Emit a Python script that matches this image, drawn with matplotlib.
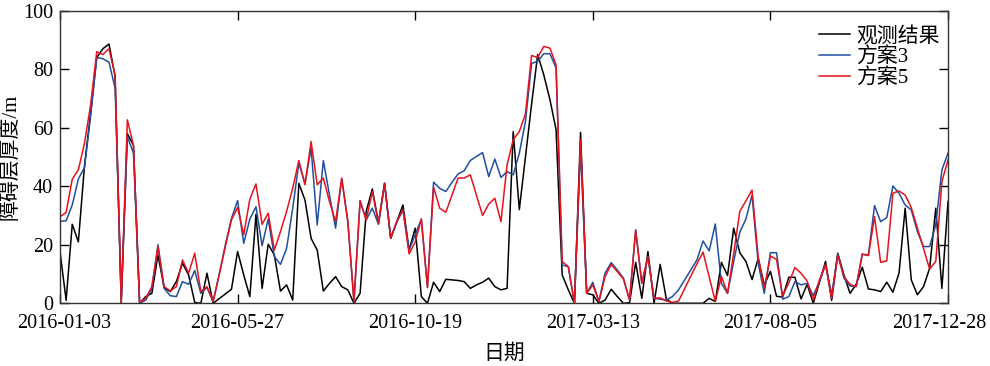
import pandas as pd
import matplotlib.pyplot as plt
import matplotlib.dates as mdates
import matplotlib.transforms as mtransforms

plt.rcParams['font.family'] = ['Liberation Serif', 'Noto Sans CJK SC']
plt.rcParams['axes.unicode_minus'] = False

# observation dates: every 5 days
dates = pd.date_range("2016-01-03", "2017-12-28", freq="5D")

observed = [
    17.7, 1, 27, 21, 47, 65, 84, 87, 88.6, 77.5,
    0, 58, 54, 0, 2.3, 3.4, 16.5, 5.4, 4, 7.4,
    13.7, 9.7, 0.3, 0, 10.3, 0, 1.6, 3.2, 4.8, 17.7,
    9.7, 2.3, 30.4, 5.1, 20.2, 16.5, 4.2, 6.3, 1.1, 41,
    35.3, 22.2, 18.2, 4.2, 6.8, 9.1, 5.7, 4.6, 0, 3.4,
    31.4, 39.1, 27.4, 41, 22.2, 27.9, 33.6, 18.2, 25.7, 2.3,
    0, 7.2, 4, 8.2, 8, 7.8, 7.4, 5.1, 6.3, 7.2,
    8.6, 5.7, 4.6, 5.1, 58.7, 32, 50, 68, 85, 78,
    69.6, 59.3, 9.7, 4.6, 0, 58.4, 3.4, 2.9, 0, 1.1,
    4.8, 2.3, 0, 0.2, 14, 1.7, 17.7, 0, 13.3, 1.5,
    0, 0, 0, 0, 0, 0, 1.7, 0.6, 14, 9.5,
    25.7, 17.3, 14.3, 8.1, 15.3, 6.3, 10.9, 2.4, 2.1, 8.9,
    8.9, 1.5, 6.5, 0, 7.2, 14.3, 1, 17.1, 9.7, 3.4,
    6.5, 12.3, 4.9, 4.6, 4, 7.2, 3.8, 10.3, 32.5, 8,
    2.9, 5.7, 12, 32.5, 5.1, 34.8,
]

plan3 = [
    28, 28.2, 33.6, 42.5, 46.4, 64, 84, 83.6, 82.4, 73.5,
    2, 57, 51.3, 0, 1.1, 5.1, 20, 5.1, 2.6, 2.3,
    7.4, 6.5, 11.2, 3.4, 5.4, 0.6, 10, 20, 29, 35.1,
    20.5, 28.8, 33, 19.7, 28.8, 16, 13.3, 18.8, 32.5, 47.9,
    41, 53, 26.8, 48.8, 37, 25.7, 42.6, 28, 0.6, 35,
    28.5, 32.5, 27, 41, 22.2, 27.9, 32, 18.2, 23.4, 28.8,
    5.4, 41.4, 39.3, 38.2, 41.3, 44.2, 45.3, 48.8, 50.2, 51.5,
    43.3, 49.3, 43, 45, 43.9, 51.3, 62.1, 82, 82.7, 85.3,
    85.3, 80.4, 13.1, 12.5, 0, 53, 3.4, 7.2, 0.6, 10.3,
    13.9, 11.4, 8.6, 1.1, 25.1, 6.8, 16, 1.7, 1.4, 1.1,
    2.3, 4.6, 8, 11.4, 14.8, 21.3, 17.9, 27.1, 6.8, 3.4,
    14.3, 24.3, 28.8, 37, 13.7, 3.4, 17.3, 17.3, 1.4, 2.3,
    7.4, 6.3, 6.8, 2.6, 7.4, 13.1, 2.9, 17.1, 8.6, 5.9,
    5.7, 16.8, 16.5, 33.4, 27.9, 29.3, 40.1, 37.6, 33.6, 31.9,
    24.5, 19.4, 19.4, 26.8, 45.6, 51.3,
]

plan5 = [
    29.6, 31, 42.4, 45.6, 54.7, 67.8, 86, 85, 87, 78,
    0.5, 62.7, 54, 0.3, 1.7, 5.7, 19.4, 5.7, 4.2, 5.7,
    14.8, 10.3, 17.1, 4, 5.7, 0.6, 9.7, 19.4, 28.5, 32.8,
    23.4, 35.6, 40.8, 27, 30.8, 18.2, 24.5, 31.4, 39.3, 48.8,
    40.5, 55.3, 40.5, 42.8, 34.8, 27.9, 42.8, 27.9, 0.6, 35,
    28.5, 38.2, 27.4, 41, 22.2, 27.9, 32, 16.9, 21, 28.8,
    5.4, 39.7, 32.5, 31.1, 37, 42.8, 42.8, 43.9, 37, 30,
    33.9, 35.9, 27.9, 47.3, 55.9, 58.7, 64.7, 84.7, 84, 87.8,
    87.2, 81.5, 14.3, 12.5, 0, 55.9, 3.4, 6.3, 0.6, 9.1,
    13.3, 10.8, 8.3, 1.1, 25, 6.8, 15.9, 1.7, 1.9, 0.8,
    0.3, 0.8, 5, 9.3, 13.5, 17.5, 9, 0.6, 9.2, 3.4,
    17, 31.4, 35, 38.7, 16, 5.1, 16.2, 15, 2.5, 7,
    12.2, 10.3, 7.6, 1.1, 8, 13.3, 1.7, 16.5, 9.1, 6.5,
    5.7, 16.8, 16.3, 29.6, 14, 14.5, 37.6, 38.4, 37, 32.7,
    25.7, 18.8, 11.7, 14.3, 41.6, 49,
]

tick_dates = pd.date_range("2016-01-03", "2017-12-28", freq="145D")

fig = plt.figure(figsize=(9.9, 3.66), dpi=100)
ax = fig.add_axes([0.0606, 0.1713, 0.897, 0.7995])

ax.plot(dates, observed, color="black", lw=1.1, label="观测结果")
ax.plot(dates, plan3, color="#1f4fa0", lw=1.1, label="方案3")
ax.plot(dates, plan5, color="#e5131d", lw=1.1, label="方案5")

ax.set_xlim(dates[0], dates[-1])
ax.set_ylim(0, 100)
ax.set_xticks(tick_dates)
ax.xaxis.set_major_formatter(mdates.DateFormatter("%Y-%m-%d"))
ax.set_yticks([0, 20, 40, 60, 80, 100])

ax.tick_params(direction="in", length=6.5, width=1, labelsize=14.5,
               top=True, right=True, pad=5)
ax.tick_params(axis="x", pad=8)
for s in ax.spines.values():
    s.set_linewidth(1)
    s.set_color("#333333")

# nudge the end labels inward like the original
xlabels = ax.get_xticklabels()
xlabels[0].set_transform(xlabels[0].get_transform() +
                         mtransforms.ScaledTranslation(4 / 100, 0, fig.dpi_scale_trans))
xlabels[-1].set_transform(xlabels[-1].get_transform() +
                          mtransforms.ScaledTranslation(-9 / 100, 0, fig.dpi_scale_trans))

ax.set_xlabel("日期", fontsize=15, labelpad=8)
ax.set_ylabel("障碍层厚度/m", fontsize=15, labelpad=2)

ax.legend(loc="upper right", bbox_to_anchor=(1.0, 0.975), frameon=False, fontsize=15,
          handlelength=1.5, handletextpad=0.3, labelspacing=0.05,
          borderaxespad=0.2, borderpad=0.2)

plt.savefig("out.png", dpi=100)
